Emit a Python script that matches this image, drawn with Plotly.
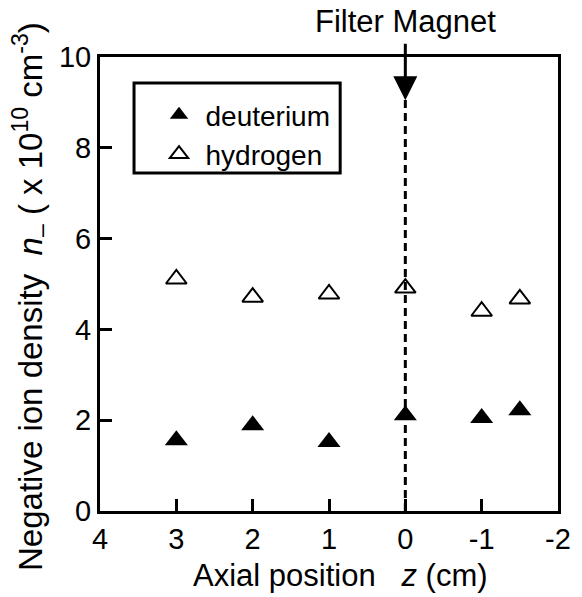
import plotly.graph_objects as go

z_pos = [3, 2, 1, 0, -1, -1.5]
deuterium = [1.56, 1.89, 1.52, 2.11, 2.05, 2.22]
hydrogen = [5.11, 4.71, 4.78, 4.91, 4.40, 4.67]
x_ticks = [4, 3, 2, 1, 0, -1, -2]
y_ticks = [0, 2, 4, 6, 8, 10]

FONT = "Liberation Sans, Arial, Helvetica, sans-serif"
NB = "\u00a0"

fig = go.Figure()
fig.add_trace(go.Scatter(x=z_pos, y=deuterium, mode="markers", name="deuterium",
                         marker=dict(symbol="triangle-up", size=20, color="black")))
fig.add_trace(go.Scatter(x=z_pos, y=hydrogen, mode="markers", name="hydrogen",
                         marker=dict(symbol="triangle-up-open", size=18, color="black",
                                     line=dict(width=2, color="black"))))

# dashed filter-magnet line
fig.add_shape(type="line", x0=0, x1=0, y0=0, y1=9.1, xref="x", yref="y",
              line=dict(color="black", width=3, dash="8px,5px"))
fig.add_annotation(x=0, y=9.05, xref="x", yref="y", ax=0, ay=-58, axref="pixel", ayref="pixel",
                   text="", showarrow=True, arrowhead=2, arrowsize=1.6, arrowwidth=3,
                   arrowcolor="black")
fig.add_annotation(x=0, y=1.0, xref="x", yref="paper", yanchor="bottom", yshift=16,
                   text="Filter Magnet", showarrow=False,
                   font=dict(size=31, color="black", family=FONT))

# y-axis title
fig.add_annotation(x=(28 - 100) / 471, y=(511 - 296) / 454, xref="paper", yref="paper",
                   xanchor="center", yanchor="middle", textangle=-90, showarrow=False,
                   text=("Negative ion density" + NB * 2 + "<i>n</i><sub>–</sub>" + NB
                         + "( x 10<sup>10</sup> cm<sup>-3</sup>)"),
                   font=dict(size=33, color="black", family=FONT))

# x-axis title
fig.add_annotation(x=(347 - 100) / 471, y=(511 - 575) / 454, xref="paper", yref="paper",
                   xanchor="center", yanchor="middle", showarrow=False,
                   text="Axial position" + NB * 3 + "<i>z</i>" + NB + "(cm)",
                   font=dict(size=31, color="black", family=FONT))

# legend frame
fig.add_shape(type="rect", xref="paper", yref="paper",
              x0=(135 - 100) / 471, x1=(347 - 100) / 471,
              y0=(511 - 173) / 454, y1=(511 - 83) / 454,
              line=dict(color="black", width=3), fillcolor="rgba(0,0,0,0)")

fig.update_layout(
    width=582, height=597,
    margin=dict(l=100, r=11, t=57, b=86),
    paper_bgcolor="white", plot_bgcolor="white",
    font=dict(family=FONT, size=29, color="black"),
    showlegend=True,
    legend=dict(x=(154 - 100) / 471, y=(511 - 90) / 454, xanchor="left", yanchor="top",
                borderwidth=0, bgcolor="rgba(0,0,0,0)", tracegroupgap=0, itemwidth=43,
                font=dict(size=28, family=FONT)),
    xaxis=dict(range=[4, -2], tickvals=x_ticks, ticktext=[str(v) for v in x_ticks],
               ticks="inside", ticklen=12, tickwidth=3, tickcolor="black",
               showline=True, linewidth=3, linecolor="black", mirror=True,
               showgrid=False, zeroline=False, ticklabelstandoff=0),
    yaxis=dict(range=[0, 10], tickvals=y_ticks, ticks="inside", ticklen=12, tickwidth=3,
               tickcolor="black", showline=True, linewidth=3, linecolor="black", mirror=True,
               showgrid=False, zeroline=False, ticklabelstandoff=0),
)

fig.write_html("out.html")
